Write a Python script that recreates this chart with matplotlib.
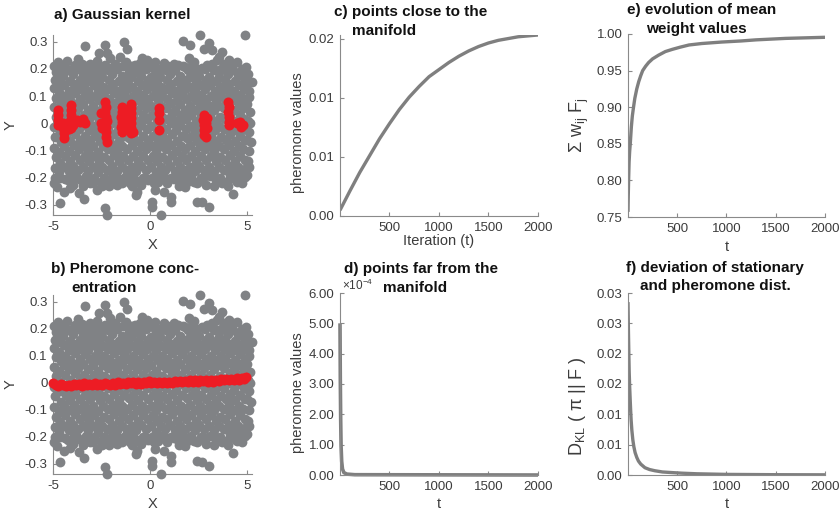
import matplotlib
matplotlib.use('Agg')
import matplotlib.pyplot as plt
import numpy as np

plt.rcParams['font.family'] = ['Liberation Sans', 'DejaVu Sans']
plt.rcParams['axes.unicode_minus'] = False
plt.rcParams['mathtext.default'] = 'regular'

# gray sample cloud (shared by panels a and b)
cloud = [
    # x ~ -4.9 .. -4.15
    (-4.92,-0.165),(-4.85,-0.125),(-4.95,-0.09),(-4.88,-0.05),(-4.96,-0.015),(-4.86,0.025),(-4.93,0.06),(-4.87,0.095),(-4.95,0.13),(-4.9,0.16),(-4.83,0.19),(-4.9,-0.2),
    (-4.7,-0.18),(-4.62,-0.145),(-4.68,-0.105),(-4.6,-0.07),(-4.66,-0.03),(-4.63,0.005),(-4.7,0.045),(-4.6,0.08),(-4.67,0.115),(-4.62,0.15),(-4.58,0.185),
    (-4.45,-0.16),(-4.37,-0.12),(-4.42,-0.085),(-4.35,-0.045),(-4.44,-0.01),(-4.38,0.03),(-4.43,0.065),(-4.36,0.1),(-4.41,0.14),(-4.46,0.175),(-4.4,-0.205),(-4.33,0.2),
    (-4.2,-0.175),(-4.12,-0.14),(-4.18,-0.1),(-4.1,-0.065),(-4.16,-0.025),(-4.13,0.01),(-4.19,0.05),(-4.11,0.085),(-4.17,0.12),(-4.12,0.155),(-4.08,-0.215),(-4.22,0.195),
    # x ~ -3.9 .. -3.15
    (-3.95,-0.155),(-3.87,-0.115),(-3.92,-0.08),(-3.85,-0.04),(-3.94,0.0),(-3.88,0.035),(-3.93,0.07),(-3.86,0.11),(-3.91,0.145),(-3.96,0.18),(-3.9,-0.19),(-3.82,0.21),
    (-3.7,-0.17),(-3.62,-0.135),(-3.68,-0.095),(-3.6,-0.06),(-3.66,-0.02),(-3.63,0.015),(-3.69,0.055),(-3.61,0.09),(-3.67,0.125),(-3.62,0.16),(-3.58,-0.21),
    (-3.45,-0.16),(-3.37,-0.12),(-3.42,-0.08),(-3.35,-0.045),(-3.44,-0.005),(-3.38,0.03),(-3.43,0.07),(-3.36,0.105),(-3.41,0.14),(-3.46,0.175),(-3.3,-0.195),(-3.38,0.2),
    (-3.2,-0.175),(-3.12,-0.14),(-3.18,-0.1),(-3.1,-0.06),(-3.16,-0.025),(-3.13,0.015),(-3.19,0.05),(-3.11,0.09),(-3.17,0.12),(-3.12,0.155),(-3.1,-0.22),(-3.15,0.19),
    # x ~ -2.9 .. -2.15
    (-2.95,-0.16),(-2.87,-0.12),(-2.92,-0.085),(-2.85,-0.045),(-2.94,-0.01),(-2.88,0.03),(-2.93,0.065),(-2.86,0.1),(-2.91,0.14),(-2.96,0.17),(-2.88,-0.2),(-2.82,0.205),
    (-2.7,-0.18),(-2.62,-0.14),(-2.68,-0.105),(-2.6,-0.065),(-2.66,-0.03),(-2.63,0.01),(-2.69,0.045),(-2.61,0.085),(-2.67,0.12),(-2.62,0.155),(-2.55,-0.215),(-2.6,0.19),
    (-2.45,-0.16),(-2.37,-0.125),(-2.42,-0.085),(-2.35,-0.05),(-2.44,-0.01),(-2.38,0.025),(-2.43,0.065),(-2.36,0.1),(-2.41,0.135),(-2.46,0.17),(-2.38,-0.2),(-2.3,0.215),
    (-2.2,-0.17),(-2.12,-0.135),(-2.18,-0.095),(-2.1,-0.06),(-2.16,-0.02),(-2.13,0.015),(-2.19,0.055),(-2.11,0.09),(-2.17,0.125),(-2.12,0.16),(-2.1,-0.23),(-2.15,0.195),
    # x ~ -1.9 .. -1.15
    (-1.95,-0.155),(-1.87,-0.115),(-1.92,-0.08),(-1.85,-0.04),(-1.94,0.0),(-1.88,0.035),(-1.93,0.075),(-1.86,0.11),(-1.91,0.145),(-1.96,0.18),(-1.9,-0.19),(-1.82,0.2),
    (-1.7,-0.175),(-1.62,-0.14),(-1.68,-0.1),(-1.6,-0.065),(-1.66,-0.025),(-1.63,0.01),(-1.69,0.05),(-1.61,0.085),(-1.67,0.12),(-1.62,0.155),(-1.58,-0.205),(-1.7,0.2),
    (-1.45,-0.16),(-1.37,-0.12),(-1.42,-0.085),(-1.35,-0.045),(-1.44,-0.005),(-1.38,0.03),(-1.43,0.07),(-1.36,0.105),(-1.41,0.14),(-1.46,0.175),(-1.35,-0.2),(-1.4,0.21),
    (-1.2,-0.17),(-1.12,-0.135),(-1.18,-0.095),(-1.1,-0.055),(-1.16,-0.02),(-1.13,0.015),(-1.19,0.05),(-1.11,0.09),(-1.17,0.125),(-1.12,0.16),(-1.08,0.19),(-1.05,-0.22),
    # x ~ -0.9 .. -0.15
    (-0.95,-0.16),(-0.87,-0.12),(-0.92,-0.08),(-0.85,-0.045),(-0.94,-0.01),(-0.88,0.03),(-0.93,0.065),(-0.86,0.1),(-0.91,0.135),(-0.96,0.17),(-0.88,-0.195),(-0.82,0.2),
    (-0.7,-0.175),(-0.62,-0.14),(-0.68,-0.1),(-0.6,-0.065),(-0.66,-0.025),(-0.63,0.01),(-0.69,0.05),(-0.61,0.085),(-0.67,0.12),(-0.62,0.155),(-0.55,-0.215),(-0.65,0.19),
    (-0.45,-0.155),(-0.37,-0.12),(-0.42,-0.085),(-0.35,-0.045),(-0.44,-0.005),(-0.38,0.03),(-0.43,0.07),(-0.36,0.105),(-0.41,0.14),(-0.46,0.175),(-0.38,-0.2),(-0.3,0.21),
    (-0.2,-0.17),(-0.12,-0.135),(-0.18,-0.095),(-0.1,-0.06),(-0.16,-0.02),(-0.13,0.015),(-0.19,0.055),(-0.11,0.09),(-0.17,0.125),(-0.12,0.16),(-0.1,-0.21),(-0.2,0.2),
    # x ~ 0.1 .. 0.85
    (0.05,-0.16),(0.13,-0.12),(0.08,-0.085),(0.15,-0.045),(0.06,-0.01),(0.12,0.03),(0.07,0.065),(0.14,0.1),(0.09,0.14),(0.04,0.17),(0.12,-0.2),(0.18,0.205),
    (0.3,-0.18),(0.38,-0.14),(0.32,-0.1),(0.4,-0.065),(0.34,-0.03),(0.37,0.01),(0.31,0.045),(0.39,0.085),(0.33,0.12),(0.38,0.155),(0.42,-0.215),(0.3,0.19),
    (0.55,-0.16),(0.63,-0.125),(0.58,-0.085),(0.65,-0.05),(0.56,-0.01),(0.62,0.025),(0.57,0.065),(0.64,0.1),(0.59,0.135),(0.54,0.17),(0.62,-0.195),
    (0.8,-0.17),(0.88,-0.135),(0.82,-0.095),(0.9,-0.06),(0.84,-0.02),(0.87,0.015),(0.81,0.055),(0.89,0.09),(0.83,0.125),(0.88,0.16),(0.9,-0.22),(0.85,0.195),
    # x ~ 1.1 .. 1.85
    (1.05,-0.155),(1.13,-0.115),(1.08,-0.08),(1.15,-0.04),(1.06,0.0),(1.12,0.035),(1.07,0.075),(1.14,0.11),(1.09,0.145),(1.04,0.18),(1.1,-0.2),(1.18,0.205),
    (1.3,-0.175),(1.38,-0.14),(1.32,-0.1),(1.4,-0.065),(1.34,-0.025),(1.37,0.01),(1.31,0.05),(1.39,0.085),(1.33,0.12),(1.38,0.155),(1.42,-0.21),(1.3,0.195),
    (1.55,-0.16),(1.63,-0.12),(1.58,-0.085),(1.65,-0.045),(1.56,-0.005),(1.62,0.03),(1.57,0.07),(1.64,0.105),(1.59,0.14),(1.54,0.175),(1.62,-0.2),(1.68,0.21),
    (1.8,-0.17),(1.88,-0.135),(1.82,-0.095),(1.9,-0.055),(1.84,-0.02),(1.87,0.015),(1.81,0.05),(1.89,0.09),(1.83,0.125),(1.88,0.16),(1.9,-0.215),(1.95,0.195),
    # x ~ 2.1 .. 2.85
    (2.05,-0.16),(2.13,-0.12),(2.08,-0.08),(2.15,-0.045),(2.06,-0.01),(2.12,0.03),(2.07,0.065),(2.14,0.1),(2.09,0.135),(2.04,0.17),(2.12,-0.195),(2.18,0.215),
    (2.3,-0.175),(2.38,-0.14),(2.32,-0.1),(2.4,-0.065),(2.34,-0.025),(2.37,0.01),(2.31,0.05),(2.39,0.085),(2.33,0.12),(2.38,0.155),(2.45,-0.22),(2.3,0.19),
    (2.55,-0.155),(2.63,-0.12),(2.58,-0.085),(2.65,-0.045),(2.56,-0.005),(2.62,0.03),(2.57,0.07),(2.64,0.105),(2.59,0.14),(2.54,0.175),(2.62,-0.2),(2.68,0.205),
    (2.8,-0.17),(2.88,-0.135),(2.82,-0.095),(2.9,-0.06),(2.84,-0.02),(2.87,0.015),(2.81,0.055),(2.89,0.09),(2.83,0.125),(2.88,0.16),(2.9,-0.225),(2.85,0.2),
    # x ~ 3.1 .. 3.85
    (3.05,-0.16),(3.13,-0.12),(3.08,-0.08),(3.15,-0.045),(3.06,-0.01),(3.12,0.03),(3.07,0.065),(3.14,0.1),(3.09,0.14),(3.04,0.17),(3.12,-0.195),(3.18,0.22),
    (3.3,-0.175),(3.38,-0.14),(3.32,-0.1),(3.4,-0.065),(3.34,-0.025),(3.37,0.01),(3.31,0.05),(3.39,0.085),(3.33,0.12),(3.38,0.155),(3.42,-0.21),(3.3,0.195),
    (3.55,-0.16),(3.63,-0.125),(3.58,-0.085),(3.65,-0.05),(3.56,-0.01),(3.62,0.025),(3.57,0.065),(3.64,0.1),(3.59,0.135),(3.54,0.17),(3.62,-0.2),(3.68,0.2),
    (3.8,-0.17),(3.88,-0.135),(3.82,-0.095),(3.9,-0.06),(3.84,-0.02),(3.87,0.015),(3.81,0.055),(3.89,0.09),(3.83,0.125),(3.88,0.16),(3.9,-0.215),(3.85,0.195),
    # x ~ 4.1 .. 5.2
    (4.05,-0.155),(4.13,-0.115),(4.08,-0.08),(4.15,-0.04),(4.06,0.0),(4.12,0.035),(4.07,0.075),(4.14,0.11),(4.09,0.145),(4.04,0.18),(4.12,-0.19),
    (4.3,-0.175),(4.38,-0.14),(4.32,-0.1),(4.4,-0.065),(4.34,-0.025),(4.37,0.01),(4.31,0.05),(4.39,0.085),(4.33,0.12),(4.38,0.155),(4.42,-0.21),(4.3,0.195),
    (4.55,-0.16),(4.63,-0.12),(4.58,-0.085),(4.65,-0.045),(4.56,-0.005),(4.62,0.03),(4.57,0.07),(4.64,0.105),(4.59,0.14),(4.54,0.175),(4.62,-0.2),(4.68,0.19),
    (4.8,-0.17),(4.88,-0.135),(4.82,-0.095),(4.9,-0.06),(4.84,-0.02),(4.87,0.015),(4.81,0.055),(4.89,0.09),(4.83,0.125),(4.88,0.16),
    (5.05,-0.14),(5.1,-0.1),(5.02,-0.06),(5.12,-0.03),(5.05,0.01),(5.15,0.04),(5.0,0.07),(5.1,0.12),(5.02,0.15),(5.2,-0.07),(5.18,0.0),
    # ragged band edges
    (-4.97,0.21),(-4.75,0.225),(-4.5,0.215),(-4.28,0.23),(-4.0,0.2),(-3.72,0.235),(-3.55,0.195),(-3.25,0.21),(-3.0,0.195),(-2.78,0.215),
    (-2.5,0.205),(-2.02,0.205),(-1.8,0.22),(-1.25,0.225),(-0.98,0.21),(-0.75,0.215),(-0.55,0.195),(0.0,0.215),(0.25,0.225),(0.5,0.2),
    (0.95,0.21),(1.45,0.215),(2.0,0.24),(2.45,0.2),(2.95,0.215),(3.25,0.205),(3.55,0.245),(3.8,0.22),(4.2,0.205),(4.5,0.225),(4.75,0.2),(5.05,0.18),
    (-4.95,-0.22),(-4.62,-0.2),(-4.25,-0.21),(-3.95,-0.225),(-3.75,-0.2),(-3.45,-0.23),(-3.2,-0.205),(-2.95,-0.22),(-2.45,-0.23),(-2.25,-0.205),
    (-1.95,-0.215),(-1.45,-0.22),(-1.3,-0.2),(-0.95,-0.23),(-0.45,-0.225),(-0.25,-0.2),(0.2,-0.22),(0.5,-0.205),(0.78,-0.2),(1.25,-0.205),
    (1.5,-0.23),(1.75,-0.2),(2.0,-0.205),(2.25,-0.215),(2.75,-0.2),(3.3,-0.23),(3.5,-0.205),(4.0,-0.23),(4.25,-0.2),(4.75,-0.22),(5.02,-0.19),(5.1,-0.16),
    # sparse outer points
    (2.6,0.324),(4.91,0.324),(1.7,0.304),(-1.32,0.3),(-2.3,0.288),(-3.33,0.285),(3.02,0.294),(2.05,0.29),(-1.19,0.275),(3.71,0.263),
    (-2.65,0.257),(-2.22,0.26),(2.8,0.275),(3.2,0.268),(-2.05,0.239),(-1.53,0.245),(-2.73,0.23),(-0.41,0.242),(0.7,0.223),(4.09,0.233),
    (-3.08,0.22),(-3.85,0.214),(-3.5,0.218),(-4.54,0.196),(-0.5,0.223),(-0.15,0.233),(1.22,0.22),(1.82,0.208),(2.25,0.227),(3.45,0.233),
    (4.3,0.22),(4.95,0.208),(5.26,0.153),(5.08,0.098),
    (-2.22,-0.337),(-2.34,-0.312),(-4.66,-0.294),(0.58,-0.337),(0.1,-0.288),(0.1,-0.306),(1.1,-0.291),(2.42,-0.288),(2.68,-0.291),(3.02,-0.309),
    (-3.68,-0.257),(-3.38,-0.278),(-2.73,-0.245),(-0.67,-0.251),(-0.7,-0.263),(0.27,-0.245),(0.7,-0.251),(1.08,-0.27),(1.82,-0.233),(2.6,-0.208),
    (3.71,-0.22),(4.28,-0.26),(-4.8,-0.233),(-4.45,-0.251),(-4.1,-0.239),(-1.7,-0.227),(-1.19,-0.184),(-0.76,-0.208),(1.56,-0.19),(4.14,-0.202),
    (4.48,-0.214),(4.66,-0.19),(5.0,-0.159),(4.91,-0.196),
]

# red points, panel a (gaussian kernel weights)
red_a = [
    (-4.73,0.049),(-4.73,0.03),(-4.75,0.012),(-4.72,-0.006),(-4.47,0.0),(-4.47,-0.018),(-4.45,-0.037),(-4.45,-0.055),
    (-4.09,0.067),(-4.09,0.049),(-4.09,0.03),(-4.12,0.01),(-4.05,0.0),(-3.98,-0.005),(-4.15,-0.02),(-4.06,-0.018),
    (-3.78,0.012),(-3.6,0.006),(-3.45,0.015),(-3.35,0.0),
    (-2.3,0.079),(-2.28,0.061),(-2.3,0.043),(-2.27,0.024),(-2.3,0.006),(-2.25,-0.012),(-2.28,-0.031),(-2.25,-0.049),
    (-2.23,-0.068),(-2.55,0.0),(-2.45,-0.018),(-2.5,0.037),(-2.2,0.01),
    (-1.46,0.061),(-1.46,0.043),(-1.48,0.024),(-1.46,0.006),(-1.47,-0.012),(-1.46,-0.031),(-1.3,0.049),(-1.28,0.03),
    (-1.3,0.0),(-1.25,-0.018),(-0.98,0.073),(-0.98,0.055),(-0.99,0.037),(-0.97,0.018),(-0.98,0.0),(-0.96,-0.018),
    (-1.0,-0.037),(-0.86,-0.03),(-1.15,0.02),(-1.12,-0.005),
    (0.47,0.055),(0.45,0.037),(0.47,0.012),(0.48,-0.025),
    (2.78,0.03),(2.75,0.012),(2.78,-0.006),(2.76,-0.025),(2.78,-0.043),(2.92,0.018),(2.9,0.0),(2.92,-0.018),(2.88,-0.05),
    (4.04,0.079),(4.06,0.061),(4.04,0.043),(4.07,0.024),(4.05,0.006),(4.08,-0.006),
    (4.5,0.0),(4.65,0.006),(4.8,-0.006),(4.7,-0.015),
]

# red points, panel b (pheromone concentration along the manifold)
red_b = [
    (-4.98,0.0),(-4.85,-0.006),(-4.72,-0.01),(-4.6,-0.004),(-4.47,-0.008),(-4.33,-0.012),(-4.2,-0.006),(-4.07,-0.01),
    (-3.93,-0.003),(-3.8,-0.009),(-3.66,-0.005),(-3.53,-0.011),(-3.4,-0.002),(-3.26,-0.007),(-3.13,-0.004),(-3.0,-0.008),
    (-2.86,-0.001),(-2.72,-0.006),(-2.6,-0.003),(-2.46,-0.008),(-2.33,0.0),(-2.2,-0.005),(-2.06,-0.009),(-1.93,-0.002),
    (-1.8,-0.006),(-1.66,0.002),(-1.53,-0.004),(-1.4,0.001),(-1.26,-0.005),(-1.13,0.003),(-1.0,-0.002),(-0.86,0.004),
    (-0.73,-0.003),(-0.6,0.002),(-0.46,-0.004),(-0.33,0.005),(-0.2,0.0),(-0.06,0.006),(0.07,0.001),(0.2,0.004),
    (0.34,-0.002),(0.47,0.005),(0.6,0.0),(0.74,0.003),(0.87,-0.001),(1.0,0.004),(1.14,0.0),(1.27,0.006),
    (1.4,0.002),(1.54,0.008),(1.67,0.003),(1.8,0.007),(1.94,0.002),(2.07,0.009),(2.2,0.004),(2.34,0.01),
    (2.47,0.005),(2.6,0.011),(2.74,0.006),(2.87,0.01),(3.0,0.004),(3.14,0.009),(3.27,0.005),(3.4,0.011),
    (3.54,0.008),(3.67,0.014),(3.8,0.009),(3.94,0.015),(4.07,0.01),(4.2,0.016),(4.34,0.011),(4.47,0.017),
    (4.6,0.012),(4.74,0.018),(4.87,0.013),(4.95,0.02),
]

# c) points close to the manifold
t_c = [1, 100, 200, 300, 400, 500, 600, 700, 800, 900, 1000, 1100, 1200, 1300, 1400, 1500, 1600, 1700, 1800, 1900, 2000]
p_c = [0.00065, 0.0028, 0.0049, 0.0068, 0.0087, 0.0104, 0.0120, 0.0134, 0.0146, 0.0157, 0.0165, 0.0173, 0.0180,
       0.0186, 0.0191, 0.0195, 0.0198, 0.0200, 0.0202, 0.0203, 0.0204]

# d) points far from the manifold
t_d = [1, 4, 8, 12, 18, 26, 40, 70, 150, 2000]
p_d = [5.0e-4, 3.2e-4, 1.8e-4, 0.95e-4, 0.45e-4, 0.2e-4, 0.08e-4, 0.03e-4, 0.01e-4, 0.0]

# e) evolution of mean weight values
t_e = [1, 3, 7, 12, 18, 24, 35, 45, 57, 70, 90, 110, 130, 150, 180, 210, 250, 310, 380, 450, 530, 620, 750,
       950, 1150, 1300, 1600, 2000]
w_e = [0.757, 0.775, 0.80, 0.825, 0.84, 0.85, 0.873, 0.888, 0.90, 0.912, 0.925, 0.935, 0.943, 0.95, 0.956, 0.961,
       0.966, 0.971, 0.976, 0.979, 0.982, 0.985, 0.987, 0.989, 0.9905, 0.992, 0.994, 0.9955]

# f) KL deviation of stationary and pheromone dist.
t_f = [1, 4, 7, 10, 13, 18, 23, 28, 33, 40, 50, 60, 73, 90, 107, 130, 173, 220, 274, 350, 444, 550, 700,
       1000, 1500, 2000]
d_f = [0.0285, 0.025, 0.0222, 0.0195, 0.017, 0.0145, 0.0125, 0.0106, 0.009, 0.0074, 0.0058, 0.0047, 0.0037,
       0.0029, 0.0023, 0.0018, 0.0012, 0.0009, 0.0007, 0.0005, 0.0004, 0.0003, 0.0002, 0.0001, 0.00005, 0.00003]

xy_ticks = [-0.3, -0.2, -0.1, 0, 0.1, 0.2, 0.3]
xy_ticklabels = ['-0.3', '-0.2', '-0.1', '0', '0.1', '0.2', '0.3']
c_ticks = [0, 0.02 / 3, 0.04 / 3, 0.02]
c_ticklabels = ['0.00', '0.01', '0.01', '0.02']
d_ticks = [0, 1e-4, 2e-4, 3e-4, 4e-4, 5e-4, 6e-4]
d_ticklabels = ['0.00', '1.00', '2.00', '3.00', '4.00', '5.00', '6.00']
e_ticks = [0.75, 0.80, 0.85, 0.90, 0.95, 1.00]
e_ticklabels = ['0.75', '0.80', '0.85', '0.90', '0.95', '1.00']
f_ticks = [0, 0.005, 0.01, 0.015, 0.02, 0.025, 0.03]
f_ticklabels = ['0.00', '0.01', '0.01', '0.02', '0.02', '0.03', '0.03']
t_ticks = [500, 1000, 1500, 2000]

GRAY = '#808285'
RED = '#ed1c24'
LINE = '#7f7f7f'
AXC = '#8a8a8a'
TXT = '#3c3c3c'

W, H = 840, 512
fig = plt.figure(figsize=(8.4, 5.12), dpi=100)


def add_axes(l, t, r, b):
    # pixel box -> figure fraction
    return fig.add_axes([l / W, 1 - b / H, (r - l) / W, (b - t) / H])


def style(ax):
    for s in ['top', 'right']:
        ax.spines[s].set_visible(False)
    for s in ['left', 'bottom']:
        ax.spines[s].set_color(AXC)
        ax.spines[s].set_linewidth(0.8)
    ax.tick_params(direction='in', length=3, width=0.8, color=AXC,
                   labelcolor=TXT, labelsize=9.5, pad=4)


def title(lines):
    for txt, x, y in lines:
        fig.text(x / W, 1 - y / H, txt, ha='center', va='center',
                 fontsize=11, fontweight='bold', color='#111111')


def scatter_panel(ax, red):
    gx, gy = zip(*cloud)
    rx, ry = zip(*red)
    ax.scatter(gx, gy, s=50, color=GRAY, linewidths=0, clip_on=False, zorder=3)
    ax.scatter(rx, ry, s=52, color=RED, linewidths=0, clip_on=False, zorder=4)
    ax.set_xlim(-5, 5.26)
    ax.set_ylim(-0.337, 0.325)
    ax.set_xticks([-5, 0, 5])
    ax.set_xticklabels(['-5', '0', '5'])
    ax.set_yticks(xy_ticks)
    ax.set_yticklabels(xy_ticklabels)
    ax.set_xlabel('X', fontsize=10.5, color=TXT)
    ax.set_ylabel('Y', fontsize=10.5, color=TXT)
    ax.xaxis.set_label_coords(0.5, -0.13)
    ax.yaxis.set_label_coords(-0.18, 0.5)
    style(ax)


# a)
ax_a = add_axes(53, 35, 252, 215)
scatter_panel(ax_a, red_a)
title([('a) Gaussian kernel', 122, 15)])

# b)
ax_b = add_axes(53, 295, 252, 474)
scatter_panel(ax_b, red_b)
title([('b) Pheromone conc-', 125, 269), ('entration', 104, 288)])

# c)
ax_c = add_axes(340, 35, 538, 216)
ax_c.plot(t_c, p_c, color=LINE, lw=2.4, solid_capstyle='butt')
ax_c.set_xlim(1, 2000)
ax_c.set_ylim(0, 0.0204)
ax_c.set_xticks(t_ticks)
ax_c.set_yticks(c_ticks)
ax_c.set_yticklabels(c_ticklabels)
ax_c.set_xlabel('Iteration (t)', fontsize=10.5, color=TXT)
ax_c.set_ylabel('pheromone values', fontsize=10.5, color=TXT)
ax_c.xaxis.set_label_coords(0.5, -0.1)
ax_c.yaxis.set_label_coords(-0.175, 0.46)
style(ax_c)
title([('c) points close to the', 411, 12), ('manifold', 384, 31)])

# d)
ax_d = add_axes(340, 293, 538, 475)
ax_d.plot(t_d, p_d, color=LINE, lw=2.6, solid_capstyle='butt', clip_on=False)
ax_d.set_xlim(1, 2000)
ax_d.set_ylim(0, 6e-4)
ax_d.set_xticks(t_ticks)
ax_d.set_yticks(d_ticks)
ax_d.set_yticklabels(d_ticklabels)
ax_d.set_xlabel('t', fontsize=10.5, color=TXT)
ax_d.set_ylabel('pheromone values', fontsize=10.5, color=TXT)
ax_d.xaxis.set_label_coords(0.5, -0.12)
ax_d.yaxis.set_label_coords(-0.175, 0.455)
ax_d.text(0.01, 1.0, r'$\times$10$^{-4}$', transform=ax_d.transAxes,
          ha='left', va='bottom', fontsize=8.5, color=TXT)
style(ax_d)
title([('d) points far from the', 421, 269), ('manifold', 415, 288)])

# e)
ax_e = add_axes(628, 34, 825, 217)
ax_e.plot(t_e, w_e, color=LINE, lw=2.4, solid_capstyle='butt')
ax_e.set_xlim(1, 2000)
ax_e.set_ylim(0.75, 1.0)
ax_e.set_xticks(t_ticks)
ax_e.set_yticks(e_ticks)
ax_e.set_yticklabels(e_ticklabels)
ax_e.set_xlabel('t', fontsize=10.5, color=TXT)
ax_e.set_ylabel(r'$\Sigma$ w$_{ij}$ F$_j$', fontsize=13, color=TXT)
ax_e.xaxis.set_label_coords(0.5, -0.125)
ax_e.yaxis.set_label_coords(-0.19, 0.5)
style(ax_e)
title([('e) evolution of mean', 702, 10), ('weight values', 696, 29)])

# f)
ax_f = add_axes(628, 293, 825, 475)
ax_f.plot(t_f, d_f, color=LINE, lw=2.4, solid_capstyle='butt')
ax_f.set_xlim(1, 2000)
ax_f.set_ylim(0, 0.03)
ax_f.set_xticks(t_ticks)
ax_f.set_yticks(f_ticks)
ax_f.set_yticklabels(f_ticklabels)
ax_f.set_xlabel('t', fontsize=10.5, color=TXT)
ax_f.set_ylabel('D$_{KL}$ ( π || F )', fontsize=13, color=TXT)
ax_f.xaxis.set_label_coords(0.5, -0.12)
ax_f.yaxis.set_label_coords(-0.205, 0.38)
style(ax_f)
title([('f) deviation of stationary', 715, 268), ('and pheromone dist.', 715, 286)])

fig.savefig('out.png', dpi=100)
